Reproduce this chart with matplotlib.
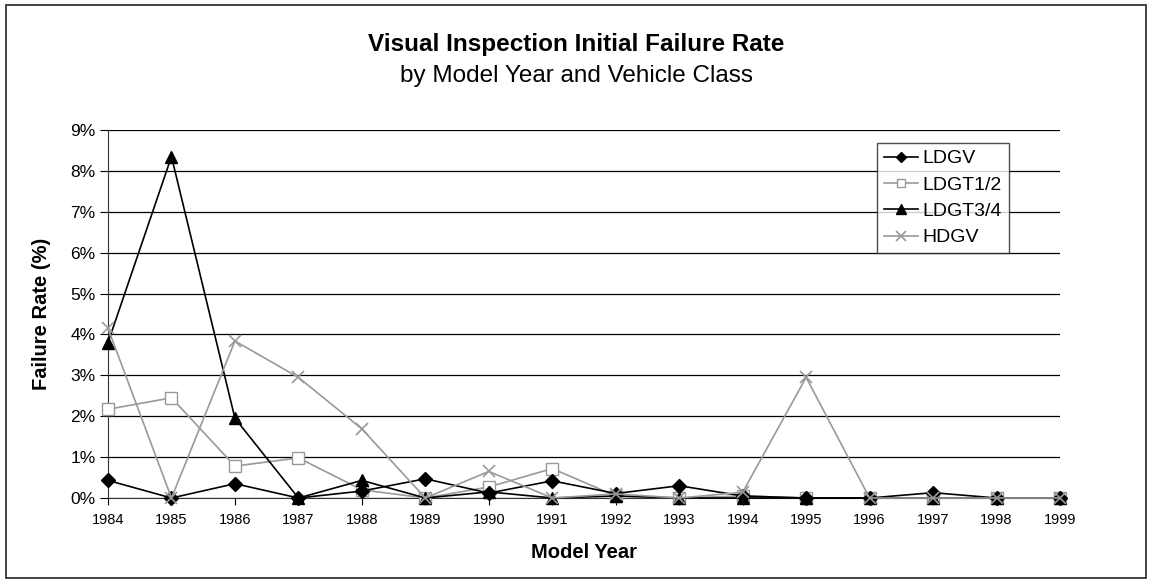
import matplotlib
matplotlib.use("Agg")
import matplotlib.pyplot as plt
from matplotlib.patches import Rectangle
from matplotlib.ticker import FuncFormatter

plt.rcParams['font.family'] = ['Liberation Sans', 'DejaVu Sans']

years = list(range(1984, 2000))
ldgv = [0.43, 0.0, 0.35, 0.0, 0.17, 0.47, 0.12, 0.42, 0.11, 0.30, 0.05, 0.0, 0.0, 0.13, 0.0, 0.0]
ldgt12 = [2.17, 2.45, 0.78, 0.98, 0.20, 0.0, 0.27, 0.72, 0.05, 0.0, 0.05, 0.0, 0.0, 0.0, 0.0, 0.0]
ldgt34 = [3.80, 8.35, 1.95, 0.0, 0.43, 0.0, 0.15, 0.0, 0.05, 0.0, 0.0, 0.0, 0.0, 0.0, 0.0, 0.0]
hdgv = [4.15, 0.0, 3.84, 2.95, 1.69, 0.0, 0.65, 0.0, 0.10, 0.0, 0.14, 2.95, 0.0, 0.0, 0.0, 0.0]

gray = '#999999'
W, H = 1152, 583

fig = plt.figure(figsize=(W / 100, H / 100), dpi=100)
fig.patches.append(Rectangle((6 / W, 5 / H), 1140 / W, 573 / H,
                             transform=fig.transFigure, fill=False,
                             edgecolor='#222222', linewidth=1.2))

ax = fig.add_axes([108 / W, 85 / H, 952 / W, 368 / H])

ax.plot(years, ldgv, color='black', lw=1.2, marker='D', ms=7, label='LDGV', clip_on=False, zorder=4)
ax.plot(years, ldgt12, color=gray, lw=1.2, marker='s', ms=8.5, mfc='white',
        mec=gray, label='LDGT1/2', clip_on=False, zorder=3)
ax.plot(years, ldgt34, color='black', lw=1.2, marker='^', ms=9, label='LDGT3/4', clip_on=False, zorder=5)
ax.plot(years, hdgv, color=gray, lw=1.2, marker='x', ms=9, mew=1.2, label='HDGV', clip_on=False, zorder=6)

ax.set_xlim(1984, 1999)
ax.set_ylim(0, 9)
ax.set_xticks(years)
ax.set_xticklabels([str(y) for y in years], fontsize=10.5)
ax.set_yticks(range(0, 10))
ax.yaxis.set_major_formatter(FuncFormatter(lambda v, p: f'{int(v)}%'))
ax.tick_params(axis='y', labelsize=12.5, length=6, direction='out', pad=3, color='black')
ax.tick_params(axis='x', length=5, direction='out', pad=6, color='black')
ax.grid(axis='y', color='black', lw=0.9)
ax.set_axisbelow(True)
for s in ['top', 'right']:
    ax.spines[s].set_visible(False)
ax.spines['left'].set_color('#333333')
ax.spines['bottom'].set_color('#333333')

ax.set_xlabel('Model Year', fontsize=14.5, fontweight='bold')
ax.xaxis.set_label_coords(0.5, -(552 - 498) / 368)
ax.set_ylabel('Failure Rate (%)', fontsize=14.5, fontweight='bold')
ax.yaxis.set_label_coords(-(108 - 42) / 952, 0.5)
ax.yaxis.label.set_va('center')
ax.xaxis.label.set_va('center')

fig.text(0.5, 1 - 45 / H, 'Visual Inspection Initial Failure Rate',
         ha='center', va='center', fontsize=17.5, fontweight='bold')
fig.text(0.5, 1 - 76 / H, 'by Model Year and Vehicle Class',
         ha='center', va='center', fontsize=17.5)

leg = fig.legend(*ax.get_legend_handles_labels(), loc='upper left',
                 bbox_to_anchor=(877 / W, 1 - 143 / H),
                 fontsize=14, frameon=True, fancybox=False, edgecolor='#222222',
                 handlelength=1.75, borderpad=0.35, labelspacing=0.45,
                 handletextpad=0.25, borderaxespad=0, markerscale=0.75)
leg.get_frame().set_linewidth(1.0)

fig.savefig('out.png', dpi=100)
